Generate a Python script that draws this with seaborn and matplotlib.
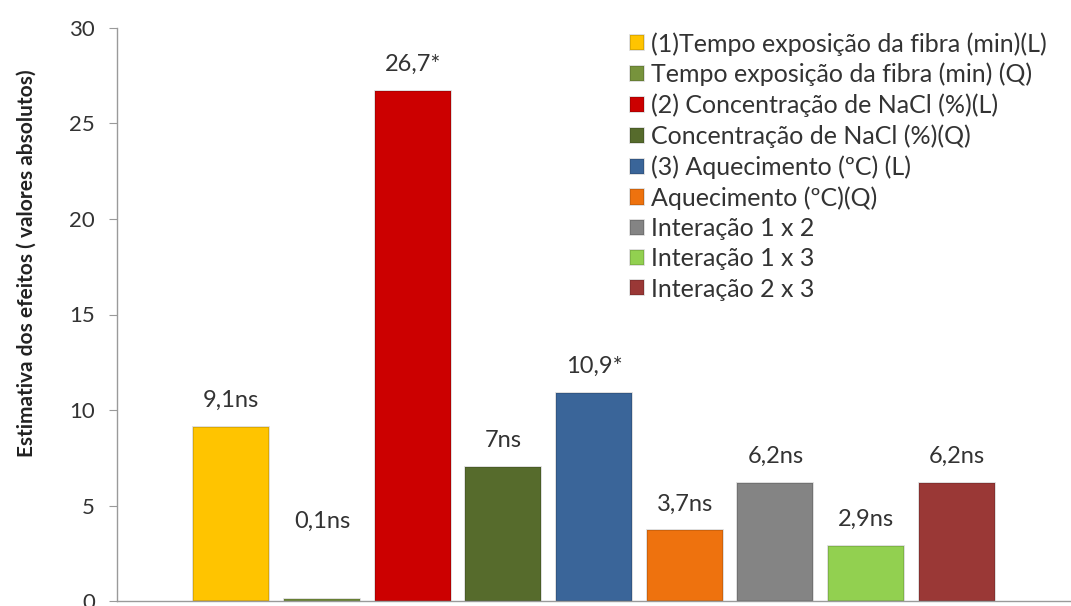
import pandas as pd
import seaborn as sns
import matplotlib.pyplot as plt

# effects (absolute values) and their labels
factors = ['(1)Tempo exposição da fibra (min)(L)',
           'Tempo exposição da fibra (min) (Q)',
           '(2) Concentração de NaCl (%)(L)',
           'Concentração de NaCl (%)(Q)',
           '(3) Aquecimento (ºC) (L)',
           'Aquecimento (ºC)(Q)',
           'Interação 1 x 2',
           'Interação 1 x 3',
           'Interação 2 x 3']
effects = [9.1, 0.1, 26.7, 7.0, 10.9, 3.7, 6.2, 2.9, 6.2]
bar_labels = ['9,1ns', '0,1ns', '26,7*', '7ns', '10,9*', '3,7ns', '6,2ns', '2,9ns', '6,2ns']
colors = ['#FFC400', '#77933C', '#CC0000', '#566B2C', '#3A6599',
          '#EE720E', '#848484', '#92D050', '#9A3836']
# label lift above each bar, in points
label_lift = [19, 56, 19, 19, 19, 19, 19, 19, 19]

df = pd.DataFrame({'fator': factors, 'efeito': effects})

sns.set_style('white')
plt.rcParams['font.family'] = ['Lato', 'DejaVu Sans']

fig = plt.figure(figsize=(10.71, 6.06), dpi=100)
ax = fig.add_axes([117 / 1071, 5 / 606, 1 - 117 / 1071, 573 / 606])

sns.barplot(data=df, x='fator', y='efeito', hue='fator', palette=colors,
            saturation=1, width=0.84, dodge=False, legend=True, ax=ax,
            edgecolor='#00000028', linewidth=1.2)

for i, (v, lab) in enumerate(zip(effects, bar_labels)):
    ax.annotate(lab, (i, v), xytext=(0, label_lift[i]), textcoords='offset points',
                ha='center', va='center', fontsize=17, color='#333333')

ax.set_ylim(0, 30)
ax.set_xlim(-1.26, 9.26)
ax.set_yticks(range(0, 31, 5))
ax.set_xticks([])
ax.set_xlabel('')
ax.set_ylabel('Estimativa dos efeitos ( valores absolutos)', fontsize=15,
              fontweight='bold', color='#222222')
ax.yaxis.set_label_coords(-0.084, 0.59)
ax.tick_params(axis='y', labelsize=16, labelcolor='#333333', length=6,
               color='#9a9a9a', left=True, pad=10)
for s in ['top', 'right']:
    ax.spines[s].set_visible(False)
for s in ['left', 'bottom']:
    ax.spines[s].set_color('#9a9a9a')
    ax.spines[s].set_linewidth(1)

leg = ax.legend(loc='upper left', bbox_to_anchor=(630 / 1071, 1 - 32 / 606),
                bbox_transform=fig.transFigure, frameon=False, fontsize=18,
                handlelength=0.55, handleheight=0.55, handletextpad=0.3,
                labelspacing=0.29, borderaxespad=0, borderpad=0)
for t in leg.get_texts():
    t.set_color('#333333')

plt.savefig('out.png', dpi=100)
